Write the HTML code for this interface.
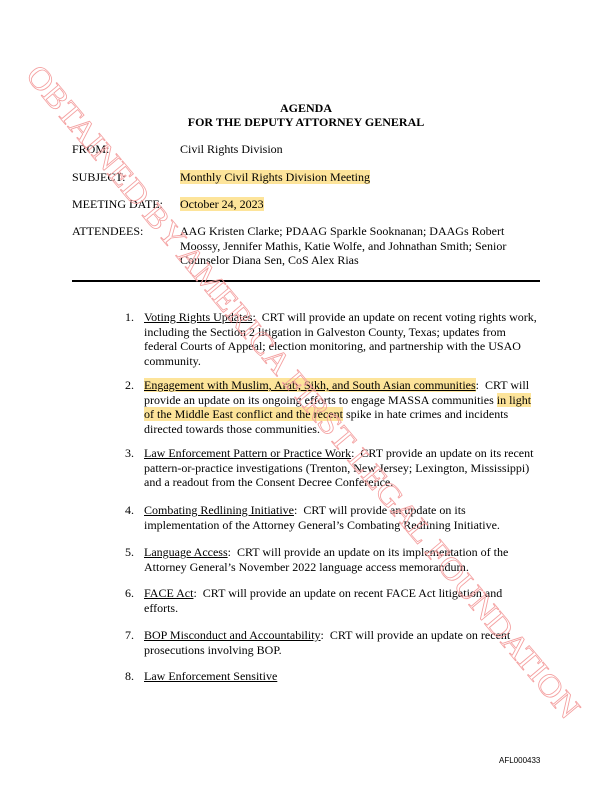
<!DOCTYPE html>
<html><head><style>
body{margin:0;width:612px;height:792px;position:relative;background:#fff;font-family:"Liberation Serif",serif;font-size:12px;color:#000;overflow:hidden}
.t{position:absolute;white-space:nowrap;line-height:14.5px}
.h{background:#fde49a}
u{text-decoration:underline}
</style></head><body>
<div class="t" style="left:0;width:612px;text-align:center;top:101px;font-weight:bold">AGENDA</div>
<div class="t" style="left:0;width:612px;text-align:center;top:115px;font-weight:bold">FOR THE DEPUTY ATTORNEY GENERAL</div>
<div class="t" style="left:72px;top:142px">FROM:</div><div class="t" style="left:180px;top:142px">Civil Rights Division</div>
<div class="t" style="left:72px;top:170px">SUBJECT:</div><div class="t" style="left:180px;top:170px"><span class="h">Monthly Civil Rights Division Meeting</span></div>
<div class="t" style="left:72px;top:197px">MEETING DATE:</div><div class="t" style="left:180px;top:197px"><span class="h">October 24, 2023</span></div>
<div class="t" style="left:72px;top:224px">ATTENDEES:</div>
<div class="t" style="left:180px;top:224px">AAG Kristen Clarke; PDAAG Sparkle Sooknanan; DAAGs Robert<br>Moossy, Jennifer Mathis, Katie Wolfe, and Johnathan Smith; Senior<br>Counselor Diana Sen, CoS Alex Rias</div>
<div style="position:absolute;left:72px;top:280px;width:468px;height:1.5px;background:#000"></div>

<div class="t" style="left:125px;top:310px">1.</div>
<div class="t" style="left:144px;top:310px"><u>Voting Rights Updates</u>:&nbsp; CRT will provide an update on recent voting rights work,<br>including the Section 2 litigation in Galveston County, Texas; updates from<br>federal Courts of Appeal; election monitoring, and partnership with the USAO<br>community.</div>
<div class="t" style="left:125px;top:378px">2.</div>
<div class="t" style="left:144px;top:378px"><span class="h"><u>Engagement with Muslim, Arab, Sikh, and South Asian communities</u></span>:&nbsp; CRT will<br>provide an update on its ongoing efforts to engage MASSA communities <span class="h">in light</span><br><span class="h">of the Middle East conflict and the recent</span> spike in hate crimes and incidents<br>directed towards those communities.</div>
<div class="t" style="left:125px;top:446px">3.</div>
<div class="t" style="left:144px;top:446px"><u>Law Enforcement Pattern or Practice Work</u>:&nbsp; CRT provide an update on its recent<br>pattern-or-practice investigations (Trenton, New Jersey; Lexington, Mississippi)<br>and a readout from the Consent Decree Conference.</div>
<div class="t" style="left:125px;top:503px">4.</div>
<div class="t" style="left:144px;top:503px"><u>Combating Redlining Initiative</u>:&nbsp; CRT will provide an update on its<br>implementation of the Attorney General’s Combating Redlining Initiative.</div>
<div class="t" style="left:125px;top:545px">5.</div>
<div class="t" style="left:144px;top:545px"><u>Language Access</u>:&nbsp; CRT will provide an update on its implementation of the<br>Attorney General’s November 2022 language access memorandum.</div>
<div class="t" style="left:125px;top:586px">6.</div>
<div class="t" style="left:144px;top:586px"><u>FACE Act</u>:&nbsp; CRT will provide an update on recent FACE Act litigation and<br>efforts.</div>
<div class="t" style="left:125px;top:628px">7.</div>
<div class="t" style="left:144px;top:628px"><u>BOP Misconduct and Accountability</u>:&nbsp; CRT will provide an update on recent<br>prosecutions involving BOP.</div>
<div class="t" style="left:125px;top:669px">8.</div>
<div class="t" style="left:144px;top:669px"><u>Law Enforcement Sensitive</u></div>
<div class="t" style="left:499px;top:754px;font-family:'Liberation Sans',sans-serif;font-size:8px">AFL000433</div>

<svg style="position:absolute;left:0;top:0" width="612" height="792">
<text x="303" y="402" transform="rotate(50 303 392)" text-anchor="middle" font-family="Liberation Serif" font-size="31" fill="none" stroke="#f4a0a0" stroke-width="0.8" textLength="842" lengthAdjust="spacingAndGlyphs">OBTAINED BY AMERICA FIRST LEGAL FOUNDATION</text>
</svg>
</body></html>
